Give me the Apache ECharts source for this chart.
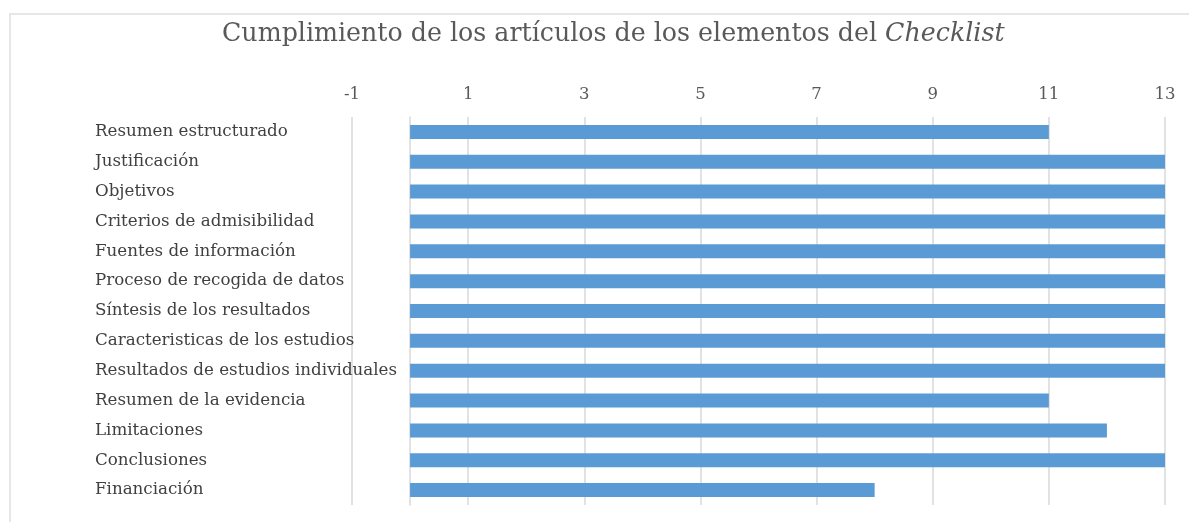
<!DOCTYPE html>
<html>
<head>
<meta charset="utf-8">
<script src="https://cdn.jsdelivr.net/npm/echarts@6/dist/echarts.min.js"></script>
<style>
html,body{margin:0;padding:0;background:#fff;}
#chart{width:1189px;height:522px;}
</style>
</head>
<body>
<div id="chart"></div>
<script>
const categories = [
  "Resumen estructurado",
  "Justificación",
  "Objetivos",
  "Criterios de admisibilidad",
  "Fuentes de información",
  "Proceso de recogida de datos",
  "Síntesis de los resultados",
  "Caracteristicas de los estudios",
  "Resultados de estudios individuales",
  "Resumen de la evidencia",
  "Limitaciones",
  "Conclusiones",
  "Financiación"
];
const values = [11, 13, 13, 13, 13, 13, 13, 13, 13, 11, 12, 13, 8];
const axisMin = -1, axisMax = 13, axisInterval = 2;

const serif = '"DejaVu Serif", "Liberation Serif", serif';
const chart = echarts.init(document.getElementById('chart'));
chart.setOption({
  animation: false,
  backgroundColor: '#ffffff',
  title: {
    text: '{n|Cumplimiento de los artículos de los elementos del }{i|Checklist}',
    left: 217,
    top: 17,
    textStyle: {
      fontWeight: 'normal',
      rich: {
        n: { fontFamily: serif, fontSize: 25.3, fontWeight: 'normal', color: '#595959' },
        i: { fontFamily: serif, fontSize: 25.3, fontWeight: 'normal', color: '#595959', fontStyle: 'italic' }
      }
    }
  },
  graphic: [
    { type: 'line', shape: { x1: 9, y1: 14, x2: 1189, y2: 14 }, style: { stroke: '#e6e6e6', lineWidth: 2 } },
    { type: 'line', shape: { x1: 10, y1: 14, x2: 10, y2: 522 }, style: { stroke: '#e6e6e6', lineWidth: 2 } }
  ],
  grid: { left: 352, right: 24, top: 117, height: 388, containLabel: false },
  xAxis: {
    type: 'value',
    position: 'top',
    min: axisMin,
    max: axisMax,
    interval: axisInterval,
    axisLine: { show: false },
    axisTick: { show: false },
    axisLabel: { fontFamily: serif, fontSize: 16.5, color: '#595959', margin: 14 },
    splitLine: { show: true, lineStyle: { color: '#d9d9d9', width: 1.5 } }
  },
  yAxis: {
    type: 'category',
    data: categories,
    inverse: true,
    axisLine: { show: true, onZero: true, lineStyle: { color: '#d9d9d9', width: 1.5 } },
    axisTick: { show: false },
    axisLabel: { fontFamily: serif, fontSize: 16.7, color: '#404040', align: 'left', margin: 257 },
    splitLine: { show: false }
  },
  series: [{
    type: 'bar',
    data: values,
    barWidth: 14,
    itemStyle: { color: '#5b9bd5' }
  }]
});
</script>
</body>
</html>
